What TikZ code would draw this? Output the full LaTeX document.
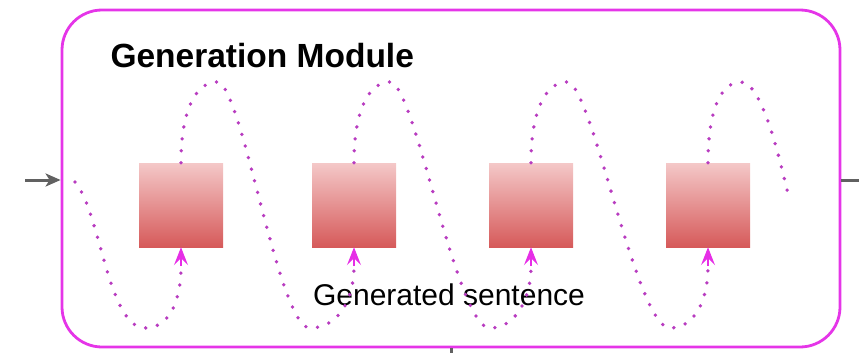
\documentclass[tikz,border=0pt]{standalone}
\usepackage{fontspec}
\setmainfont{Liberation Sans}
\usetikzlibrary{arrows.meta}
\definecolor{frameM}{HTML}{E535E8}
\definecolor{dotM}{HTML}{B83CC0}
\definecolor{tipM}{HTML}{E62EE6}
\definecolor{boxTop}{HTML}{F4C8C8}
\definecolor{boxBot}{HTML}{D65A5A}
\tikzset{
  x=1pt, y=-1pt,
  frame/.style={draw=frameM, line width=2.8pt, rounded corners=40pt, minimum width=778pt, minimum height=337pt, inner sep=0pt},
  cell/.style={minimum width=84pt, minimum height=84pt, inner sep=0pt, top color=boxTop, bottom color=boxBot, draw=none},
  dotline/.style={draw=dotM, line width=3.8pt, line cap=round, dash pattern=on 0pt off 12pt},
  uptip/.style={draw=tipM, line width=1.2pt, -{Stealth[length=18pt,width=14pt,inset=7pt]}, fill=tipM},
  grayarrow/.style={draw=black!62, line width=3pt, -{Stealth[length=15pt,width=13pt,inset=4pt]}},
  grayline/.style={draw=black!62, line width=3pt},
}
\begin{document}
\begin{tikzpicture}
\useasboundingbox (0,0) rectangle (859,353);
\node[frame] (frame) at (451,178.5) {};
\node[font=\bfseries\fontsize{33.5}{36}\selectfont, anchor=base west] (title) at (107,67) {Generation Module};
\node[font=\fontsize{30}{34}\selectfont] (gen) at (449,295) {Generated sentence};
\node[cell] (b1) at (181,205) {};
\node[cell] (b2) at (354,205) {};
\node[cell] (b3) at (531,205) {};
\node[cell] (b4) at (708,205) {};
% external connectors
\coordinate (inL) at (25,180);
\coordinate (outR) at (859,180);
\coordinate (outB) at (451,356);
\draw[grayarrow] (inL) -- (frame.west |- inL);
\draw[grayline] (frame.east |- outR) -- (outR);
\draw[grayline] (frame.south) -- (outB);
% dotted wave
\coordinate (s0) at (75,182);
\coordinate (a1) at (181,266);
\coordinate (a2) at (354,266);
\coordinate (a3) at (531,266);
\coordinate (a4) at (708,266);
\coordinate (e4) at (789,198);
\draw[dotline] (s0) .. controls (100,210) and (108,328) .. (145,328)
  .. controls (170,328) and (181,300) .. (a1);
\draw[dotline] (b1.north) .. controls (181,110) and (196,82) .. (217,82)
  .. controls (242,82) and (278,328) .. (310,328)
  .. controls (338,328) and (354,300) .. (a2);
\draw[dotline] (b2.north) .. controls (354,110) and (369,82) .. (390,82)
  .. controls (415,82) and (456,328) .. (490,328)
  .. controls (515,328) and (531,300) .. (a3);
\draw[dotline] (b3.north) .. controls (531,110) and (546,82) .. (567,82)
  .. controls (592,82) and (636,328) .. (670,328)
  .. controls (695,328) and (708,300) .. (a4);
\draw[dotline] (b4.north) .. controls (708,110) and (721,82) .. (741,82)
  .. controls (762,82) and (780,160) .. (e4);
\draw[uptip] (a1) -- (b1.south);
\draw[uptip] (a2) -- (b2.south);
\draw[uptip] (a3) -- (b3.south);
\draw[uptip] (a4) -- (b4.south);
\end{tikzpicture}
\end{document}
